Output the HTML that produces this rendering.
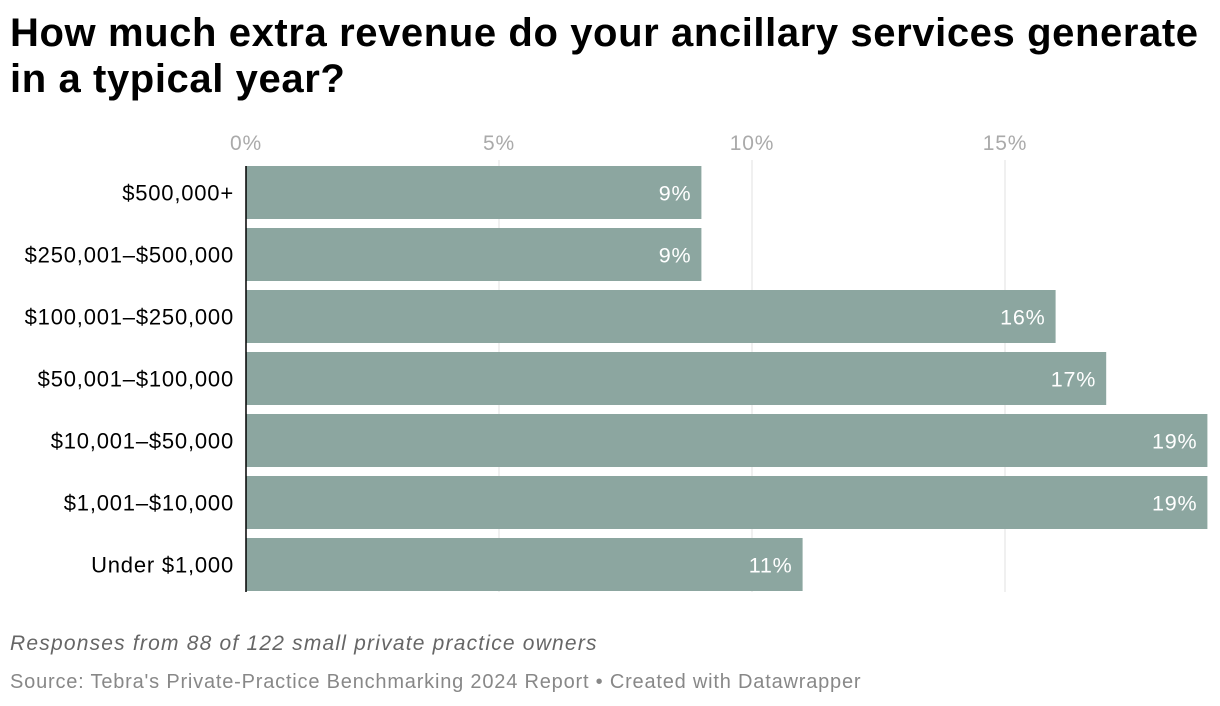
<!DOCTYPE html>
<html><head><meta charset="utf-8"><style>
body{margin:0;width:1220px;height:706px;background:#fff;font-family:"Liberation Sans",Arial,sans-serif;overflow:hidden;position:relative}
h1{position:absolute;left:10px;top:10px;margin:0;font-size:40px;line-height:46px;font-weight:bold;color:#000;letter-spacing:0.6px}
.note{position:absolute;left:10px;top:632px;font-size:21px;font-style:italic;color:#666;letter-spacing:1.2px}
.src{position:absolute;left:10px;top:671px;font-size:20px;color:#888;letter-spacing:0.8px}
svg text{letter-spacing:0.8px}
</style></head><body>
<h1>How much extra revenue do your ancillary services generate<br>in a typical year?</h1>
<svg id="chart" width="1220" height="706" style="position:absolute;left:0;top:0"></svg>
<div class="note">Responses from 88 of 122 small private practice owners</div>
<div class="src">Source: Tebra's Private-Practice Benchmarking 2024 Report • Created with Datawrapper</div>
<script>
const categories=["$500,000+","$250,001–$500,000","$100,001–$250,000","$50,001–$100,000","$10,001–$50,000","$1,001–$10,000","Under $1,000"];
const values=[9,9,16,17,19,19,11];
const ticks=[0,5,10,15];
const NS="http://www.w3.org/2000/svg";
const svg=document.getElementById('chart');
const x0=246,pxPer=50.6;
const xs=v=>x0+v*pxPer;
const y0=166,step=62,bh=53;
const ys=i=>y0+i*step;
function mk(t,a){const e=document.createElementNS(NS,t);for(const k in a)e.setAttribute(k,a[k]);svg.appendChild(e);return e;}
ticks.forEach(t=>{
 if(t>0){const l=mk('line',{x1:xs(t),x2:xs(t),y1:160,y2:592,stroke:'#e2e2e2','stroke-width':1});
 
 }
 const tx=mk('text',{x:xs(t),y:150,'text-anchor':'middle','font-size':21,fill:'#aaa'});
 tx.textContent=t+'%';
 
 
});
categories.forEach((c,i)=>{
 const r=mk('rect',{x:x0,y:ys(i),width:xs(values[i])-x0,height:bh,fill:'#8ca6a0'});
 
 
 const lab=mk('text',{x:234,y:ys(i)+bh/2+8,'text-anchor':'end','font-size':22,fill:'#000','letter-spacing':1.1});
 lab.textContent=c;
 
 
 const v=mk('text',{x:xs(values[i])-10,y:ys(i)+bh/2+8,'text-anchor':'end','font-size':21.5,fill:'#fff'});
 v.textContent=values[i]+'%';
 
 
});
const ax=mk('line',{x1:x0,x2:x0,y1:166,y2:592,stroke:'#000','stroke-width':1.5});


</script>
</body></html>
